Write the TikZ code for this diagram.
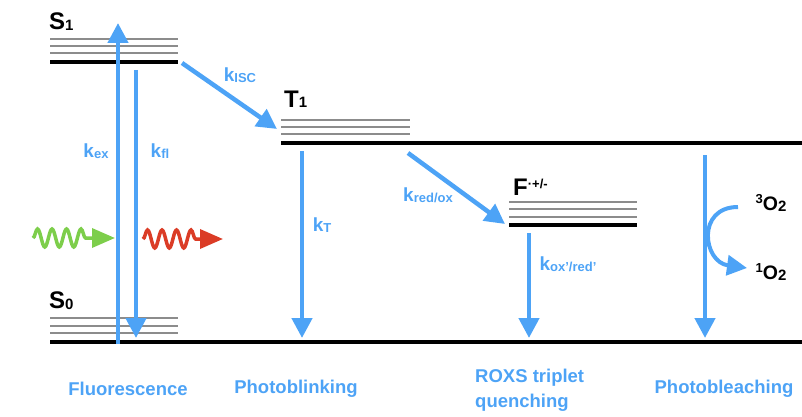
\documentclass[tikz,border=0pt]{standalone}
\usepackage{fontspec}
\setmainfont{Liberation Sans}
\usetikzlibrary{arrows.meta,positioning,decorations.pathmorphing}
\definecolor{rateblue}{RGB}{77,163,246}
\definecolor{exgreen}{RGB}{125,206,75}
\definecolor{emred}{RGB}{219,60,38}
\newcommand{\rk}[1]{k\raisebox{-0.5pt}{\fontsize{13}{14}\selectfont #1}}
\newcommand{\lsub}[1]{\raisebox{-1pt}{\fontsize{15}{16}\selectfont #1}}
\newcommand{\lsup}[1]{\raisebox{7pt}{\fontsize{13}{14}\selectfont #1}}

\begin{document}
\begin{tikzpicture}[x=1pt, y=-1pt,
  lvl/.style={line width=4.5pt},
  sublvl/.style={draw=black!45, line width=1.6pt},
  rate/.style={draw=rateblue, line width=4.5pt, -{Triangle[length=20pt, width=20pt]}},
  wave/.style={line width=3.5pt, decorate, decoration={snake, segment length=14.5pt, amplitude=9pt, post length=24pt}, -{Triangle[length=23pt, width=19pt]}},
  klab/.style={text=rateblue, font=\bfseries\fontsize{19}{21}\selectfont, inner sep=0pt},
  lab/.style={font=\bfseries\fontsize{24}{26}\selectfont, inner sep=0pt, anchor=base west},
  oxy/.style={font=\bfseries\fontsize{19.5}{21}\selectfont, inner sep=0pt},
  proc/.style={text=rateblue, font=\bfseries\fontsize{18.5}{25}\selectfont, inner sep=0pt, align=left}
]
\useasboundingbox (0,0) rectangle (802,417);
% energy levels
\foreach \y in {39,46,53} \draw[sublvl] (50,\y) -- (178,\y);
\draw[lvl] (50,62) -- (178,62);
\foreach \y in {120,127,134} \draw[sublvl] (281,\y) -- (410,\y);
\draw[lvl] (281,143) -- (802,143);
\foreach \y in {202,209,217} \draw[sublvl] (509,\y) -- (637,\y);
\draw[lvl] (509,225) -- (637,225);
\foreach \y in {318,326,333} \draw[sublvl] (50,\y) -- (178,\y);
\draw[lvl] (50,342) -- (802,342);

\node[lab] (s1) at (49,30) {S\lsub{1}};
\node[lab] (t1) at (284,107) {T\lsub{1}};
\node[lab] (fion) at (513,195) {F\lsup{·+/-}};
\node[lab] (s0) at (49,308) {S\lsub{0}};

% rate arrows
\coordinate (exA) at (118,344);
\coordinate (exB) at (118,23);
\coordinate (flA) at (136,70);
\coordinate (flB) at (136,338);
\coordinate (iscA) at (182,63);
\coordinate (iscB) at (277,129);
\coordinate (tA) at (302,151);
\coordinate (tB) at (302,338);
\coordinate (rdA) at (408,153);
\coordinate (rdB) at (505,224);
\coordinate (oxA) at (529,233);
\coordinate (oxB) at (529,338);
\coordinate (blA) at (705,155);
\coordinate (blB) at (705,338);
\draw[rate] (exA) -- (exB);
\draw[rate] (flA) -- (flB);
\draw[rate] (iscA) -- (iscB);
\draw[rate] (tA) -- (tB);
\draw[rate] (rdA) -- (rdB);
\draw[rate] (oxA) -- (oxB);
\draw[rate] (blA) -- (blB);

\node[klab] (kex) at (96,151) {\rk{ex}};
\node[klab] (kfl) at (160,151) {\rk{fl}};
\node[klab] (kisc) at (240,75) {\rk{ISC}};
\node[klab] (kt) at (322,225) {\rk{T}};
\node[klab] (krd) at (428,195) {\rk{red/ox}};
\node[klab] (kox) at (568,264) {\rk{ox'/red'}};

% oxygen
\node[oxy] (otrip) at (771,203) {\lsup{3}O\lsub{2}};
\node[oxy] (osing) at (771,272) {\lsup{1}O\lsub{2}};
\draw[rate, line width=4pt] (738,207) .. controls (696,207) and (703,262) .. (747,268);

% photons
\coordinate (gA) at (33,238);
\coordinate (gB) at (115,238);
\coordinate (rA) at (143,239);
\coordinate (rB) at (223,239);
\draw[wave, exgreen] (gA) -- (gB);
\draw[wave, emred] (rA) -- (rB);

\node[proc] (fluo) at (128,389) {Fluorescence};
\node[proc] (blink) at (296,389) {Photoblinking};
\node[proc, anchor=west] (roxs) at (475,390) {ROXS triplet\\quenching};
\node[proc] (bleach) at (724,389) {Photobleaching};
\end{tikzpicture}
\end{document}
